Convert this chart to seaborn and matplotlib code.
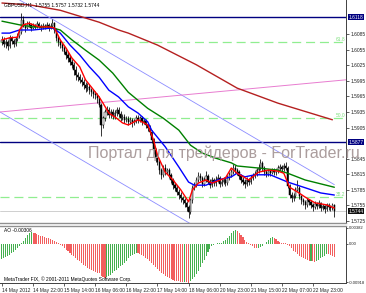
import numpy as np
import pandas as pd
import matplotlib
matplotlib.use("Agg")
import matplotlib.pyplot as plt
import matplotlib.transforms as mtrans
import seaborn as sns

# ---------------- data (GBPUSD H1) ----------------
first_open = 1.6070
closes = [
    1.6074, 1.6066, 1.6070, 1.6062, 1.6078, 1.6072, 1.6066, 1.6076, 1.6081, 1.6089,
    1.6112, 1.6101, 1.6097, 1.6105, 1.6103, 1.6097, 1.6101, 1.6099, 1.6105, 1.6101,
    1.6097, 1.6101, 1.6099, 1.6103, 1.6097, 1.6101, 1.6106, 1.6093, 1.6078, 1.6070,
    1.6064, 1.6058, 1.6051, 1.6045, 1.6039, 1.6032, 1.6026, 1.6016, 1.6006, 1.6003,
    1.5997, 1.5993, 1.5987, 1.5981, 1.5983, 1.5977, 1.5974, 1.5970, 1.5968, 1.5962,
    1.5948, 1.5910, 1.5924, 1.5935, 1.5939, 1.5929, 1.5935, 1.5927, 1.5933, 1.5939,
    1.5931, 1.5924, 1.5926, 1.5920, 1.5922, 1.5916, 1.5920, 1.5914, 1.5918, 1.5924,
    1.5920, 1.5924, 1.5916, 1.5918, 1.5910, 1.5905, 1.5897, 1.5881, 1.5862, 1.5846,
    1.5839, 1.5823, 1.5814, 1.5827, 1.5819, 1.5823, 1.5814, 1.5804, 1.5794, 1.5789,
    1.5781, 1.5775, 1.5769, 1.5765, 1.5760, 1.5752, 1.5742, 1.5765, 1.5789, 1.5794,
    1.5804, 1.5812, 1.5808, 1.5796, 1.5804, 1.5812, 1.5800, 1.5794, 1.5804, 1.5798,
    1.5804, 1.5808, 1.5796, 1.5800, 1.5804, 1.5798, 1.5808, 1.5814, 1.5819, 1.5827,
    1.5823, 1.5819, 1.5812, 1.5804, 1.5800, 1.5796, 1.5804, 1.5800, 1.5808, 1.5812,
    1.5816, 1.5823, 1.5827, 1.5837, 1.5827, 1.5819, 1.5816, 1.5821, 1.5818, 1.5823,
    1.5819, 1.5823, 1.5827, 1.5829, 1.5825, 1.5831, 1.5827, 1.5792, 1.5775, 1.5769,
    1.5773, 1.5785, 1.5789, 1.5773, 1.5765, 1.5762, 1.5756, 1.5765, 1.5762, 1.5756,
    1.5752, 1.5758, 1.5754, 1.5760, 1.5750, 1.5754, 1.5748, 1.5756, 1.5752, 1.5750,
    1.5755, 1.5744,
]
highs = [
    1.6082, 1.6080, 1.6075, 1.6074, 1.6084, 1.6082, 1.6076, 1.6080, 1.6088, 1.6095,
    1.6126, 1.6120, 1.6106, 1.6110, 1.6110, 1.6107, 1.6106, 1.6105, 1.6110, 1.6108,
    1.6104, 1.6106, 1.6105, 1.6108, 1.6106, 1.6107, 1.6114, 1.6108, 1.6096, 1.6082,
    1.6076, 1.6068, 1.6062, 1.6056, 1.6050, 1.6044, 1.6037, 1.6032, 1.6024, 1.6012,
    1.6008, 1.6002, 1.5998, 1.5992, 1.5990, 1.5988, 1.5982, 1.5980, 1.5976, 1.5972,
    1.5966, 1.5952, 1.5928, 1.5940, 1.5946, 1.5944, 1.5940, 1.5940, 1.5938, 1.5944,
    1.5944, 1.5936, 1.5932, 1.5932, 1.5928, 1.5927, 1.5925, 1.5924, 1.5922, 1.5930,
    1.5930, 1.5928, 1.5928, 1.5922, 1.5922, 1.5914, 1.5910, 1.5900, 1.5885, 1.5866,
    1.5852, 1.5844, 1.5828, 1.5832, 1.5834, 1.5828, 1.5828, 1.5818, 1.5808, 1.5798,
    1.5794, 1.5786, 1.5780, 1.5774, 1.5770, 1.5764, 1.5756, 1.5770, 1.5794, 1.5800,
    1.5810, 1.5820, 1.5818, 1.5812, 1.5810, 1.5822, 1.5816, 1.5805, 1.5810, 1.5808,
    1.5812, 1.5815, 1.5812, 1.5806, 1.5810, 1.5810, 1.5814, 1.5820, 1.5825, 1.5834,
    1.5832, 1.5828, 1.5824, 1.5816, 1.5810, 1.5806, 1.5810, 1.5808, 1.5814, 1.5818,
    1.5822, 1.5828, 1.5834, 1.5844, 1.5840, 1.5830, 1.5824, 1.5826, 1.5826, 1.5828,
    1.5828, 1.5826, 1.5832, 1.5834, 1.5833, 1.5836, 1.5838, 1.5830, 1.5796, 1.5780,
    1.5778, 1.5790, 1.5804, 1.5792, 1.5776, 1.5770, 1.5766, 1.5770, 1.5768, 1.5766,
    1.5760, 1.5763, 1.5762, 1.5765, 1.5762, 1.5758, 1.5756, 1.5760, 1.5760, 1.5756,
    1.5760, 1.5757,
]
lows = [
    1.6064, 1.6060, 1.6058, 1.6055, 1.6058, 1.6066, 1.6060, 1.6062, 1.6072, 1.6078,
    1.6085, 1.6098, 1.6090, 1.6094, 1.6098, 1.6092, 1.6094, 1.6094, 1.6097, 1.6096,
    1.6092, 1.6094, 1.6094, 1.6097, 1.6092, 1.6095, 1.6098, 1.6088, 1.6072, 1.6062,
    1.6058, 1.6052, 1.6046, 1.6038, 1.6032, 1.6025, 1.6020, 1.6006, 1.5996, 1.5995,
    1.5990, 1.5986, 1.5980, 1.5974, 1.5976, 1.5970, 1.5966, 1.5962, 1.5960, 1.5952,
    1.5944, 1.5888, 1.5905, 1.5918, 1.5930, 1.5924, 1.5924, 1.5922, 1.5922, 1.5928,
    1.5926, 1.5918, 1.5919, 1.5914, 1.5915, 1.5910, 1.5911, 1.5907, 1.5909, 1.5913,
    1.5914, 1.5915, 1.5910, 1.5911, 1.5905, 1.5898, 1.5890, 1.5876, 1.5855, 1.5838,
    1.5832, 1.5815, 1.5806, 1.5810, 1.5814, 1.5815, 1.5808, 1.5798, 1.5786, 1.5782,
    1.5775, 1.5768, 1.5762, 1.5758, 1.5752, 1.5745, 1.5730, 1.5738, 1.5760, 1.5784,
    1.5790, 1.5800, 1.5802, 1.5790, 1.5792, 1.5800, 1.5796, 1.5788, 1.5790, 1.5792,
    1.5792, 1.5800, 1.5790, 1.5792, 1.5796, 1.5792, 1.5795, 1.5804, 1.5810, 1.5815,
    1.5818, 1.5814, 1.5806, 1.5798, 1.5794, 1.5788, 1.5792, 1.5794, 1.5796, 1.5804,
    1.5808, 1.5812, 1.5818, 1.5824, 1.5822, 1.5814, 1.5810, 1.5812, 1.5812, 1.5815,
    1.5814, 1.5814, 1.5818, 1.5822, 1.5820, 1.5822, 1.5824, 1.5788, 1.5770, 1.5762,
    1.5764, 1.5770, 1.5782, 1.5768, 1.5758, 1.5755, 1.5748, 1.5752, 1.5756, 1.5750,
    1.5745, 1.5748, 1.5748, 1.5750, 1.5744, 1.5746, 1.5740, 1.5745, 1.5746, 1.5744,
    1.5746, 1.5732,
]

# moving averages (bar index, price)
ma_fast_idx = [0, 4, 8, 9, 11, 14, 19, 24, 27, 30, 33, 36, 40, 43, 46, 50, 52, 55, 59, 62,
               65, 70, 75, 78, 80, 84, 88, 92, 96, 98, 101, 105, 108, 111, 115, 118, 121,
               127, 132, 137, 142, 145, 148, 152, 156, 161, 167, 171]
ma_fast = [1.6074, 1.6078, 1.6079, 1.6093, 1.6103, 1.6106, 1.6099, 1.6099, 1.6097, 1.6074,
           1.6058, 1.6039, 1.6022, 1.5997, 1.5983, 1.5964, 1.5952, 1.5933, 1.5923, 1.5914,
           1.5910, 1.5920, 1.5910, 1.5881, 1.5852, 1.5819, 1.5804, 1.5785, 1.5762, 1.5785,
           1.5798, 1.5804, 1.5798, 1.5802, 1.5808, 1.5827, 1.5817, 1.5804, 1.5819, 1.5823,
           1.5821, 1.5817, 1.5790, 1.5781, 1.5771, 1.5760, 1.5756, 1.5750]
ma_mid_idx = [0, 4, 9, 16, 26, 30, 35, 40, 45, 50, 55, 60, 65, 70, 75, 77, 84, 91, 96, 99,
              105, 111, 118, 121, 125, 130, 138, 147, 156, 164, 171]
ma_mid = [1.6087, 1.6087, 1.6093, 1.6093, 1.6097, 1.6087, 1.6064, 1.6045, 1.6022, 1.6002,
          1.5977, 1.5964, 1.5945, 1.5933, 1.5916, 1.5900, 1.5868, 1.5829, 1.5800, 1.5794,
          1.5794, 1.5804, 1.5810, 1.5817, 1.5810, 1.5814, 1.5814, 1.5800, 1.5789, 1.5779,
          1.5775]
ma_slow_idx = [0, 9, 16, 24, 30, 36, 43, 50, 57, 65, 75, 83, 91, 97, 103, 110, 118, 121,
               132, 142, 147, 156, 171]
ma_slow = [1.6110, 1.6103, 1.6099, 1.6099, 1.6093, 1.6074, 1.6054, 1.6035, 1.6010, 1.5973,
           1.5942, 1.5923, 1.5900, 1.5871, 1.5856, 1.5846, 1.5837, 1.5831, 1.5827, 1.5823,
           1.5817, 1.5804, 1.5790]
ma_long_idx = [0, 15, 30, 50, 60, 65, 80, 100, 121, 142, 170]
ma_long = [1.6145, 1.6141, 1.6131, 1.6108, 1.6093, 1.6087, 1.6064, 1.6026, 1.5981, 1.5952, 1.5920]

# Awesome Oscillator (x 1e-4)
ao_e4 = [
    -37, -35, -32, -30, -26, -23, -19, -15, -10, -5,
    1, 8, 15, 21, 26, 28, 27, 25, 24, 22,
    20, 19, 17, 15, 13, 11, 10, 8, 5, 2,
    -2, -6, -10, -14, -18, -22, -26, -30, -34, -38,
    -42, -46, -50, -54, -57, -60, -63, -65, -67, -69,
    -71, -76, -79, -81, -80, -78, -74, -70, -66, -62,
    -58, -54, -50, -45, -40, -35, -30, -26, -24, -22,
    -23, -25, -27, -30, -33, -37, -41, -45, -50, -55,
    -60, -65, -69, -73, -76, -79, -82, -84, -86, -88,
    -89, -90, -91, -92, -91, -92, -93, -88, -84, -79,
    -72, -64, -56, -47, -38, -29, -20, -12, -6, -3,
    -1, 1, 2, 3, 6, 10, 15, 20, 25, 30,
    33, 31, 27, 22, 16, 10, 5, 1, -3, -6,
    -9, -11, -10, -8, -5, -1, 4, 9, 13, 16,
    14, 11, 8, 5, 3, 2, 1, -2, -6, -11,
    -16, -20, -24, -28, -31, -34, -37, -39, -41, -40,
    -42, -43, -41, -38, -35, -32, -28, -24, -25, -27,
    -29, -31,
]

# objects: trend channel, pink trendline, fibo levels, horizontal lines
channel_upper = ([9.0, 171.0], [1.6151, 1.5795])
channel_lower = ([-1.0, 171.0], [1.5935, 1.5557])
pink_line = ([-1.0, 177.0], [1.5935, 1.5997])
fibo_levels = [1.6070, 1.59234, 1.57712]
fibo_labels = ["61.8", "50.0", "38.2"]
hlines = [1.6118, 1.5877]
bid = 1.5744

price_ticks = [1.6085, 1.6055, 1.6025, 1.5995, 1.5965, 1.5935, 1.5905,
               1.5845, 1.5815, 1.5785, 1.5755, 1.5725]
time_tick_bars = [0, 16, 32, 48, 64, 80, 96, 112, 128, 144, 160]
time_labels = ["14 May 2012", "14 May 22:00", "15 May 14:00", "16 May 06:00",
               "16 May 22:00", "17 May 14:00", "18 May 06:00", "20 May 23:00",
               "21 May 15:00", "22 May 07:00", "22 May 23:00"]
ao_ticks = [0.00382, 0.0, -0.00918]
ao_tick_labels = ["0.00382", "0.00", "-0.00918"]

# ---------------- drawing ----------------
sns.set_theme(style="white")
plt.rcParams['font.family'] = ['Liberation Sans', 'DejaVu Sans']
plt.rcParams['lines.scale_dashes'] = False

FS = 3.5
W, H = 366, 293
fig = plt.figure(figsize=(W / 100, H / 100), dpi=100)
fig.patch.set_facecolor('white')
ax = fig.add_axes([0, 1 - 223 / H, 346 / W, 223 / H])
ax2 = fig.add_axes([0, 1 - 283 / H, 346 / W, (283 - 225.5) / H])

df = pd.DataFrame({"bar": np.arange(len(closes)), "close": closes,
                   "high": highs, "low": lows})
df["open"] = df["close"].shift(1).fillna(first_open)
df["ao"] = np.array(ao_e4) * 1e-4
bull = df["close"] >= df["open"]

XL = (-1.0, 177.0)
YL = (1.57211, 1.61508)

# watermark
fig.text(88 / W, 1 - 153 / H, "Портал для трейдеров - ForTrader.ru",
         fontsize=11.5, color='#ab9d9d', va='center', ha='left', zorder=0,
         family=['Liberation Sans', 'DejaVu Sans'])

# fibo lines
for lv, lb in zip(fibo_levels, fibo_labels):
    ax.axhline(lv, color='#90ee90', lw=0.9, ls=(0, (6.5, 3.5)), zorder=1)
    ax.text(176.5, lv + 0.00005, lb, color='#80e080', fontsize=FS,
            ha='right', va='bottom', zorder=2)

# horizontal lines
for lv in hlines:
    ax.axhline(lv, color='#000080', lw=1.0, zorder=2)
ax.axhline(bid, color='#c8c8c8', lw=0.6, zorder=1)

# trend lines
ax.plot(*channel_upper, color='#8c8cff', lw=0.6, zorder=2)
ax.plot(*channel_lower, color='#8c8cff', lw=0.6, zorder=2)
ax.plot(*pink_line, color='#e87cd0', lw=0.7, zorder=2)

# candles
ax.vlines(df["bar"], df["low"], df["high"], color='black', lw=0.55, zorder=3)
body_lo = np.minimum(df["open"], df["close"])
body_h = np.maximum(np.abs(df["close"] - df["open"]), 0.00008)
ax.bar(df["bar"], body_h, bottom=body_lo, width=0.62,
       color=np.where(bull, 'white', 'black'), edgecolor='black', linewidth=0.35, zorder=4)

# moving averages
sns.lineplot(x=ma_long_idx, y=ma_long, ax=ax, color='#b52020', lw=1.0, zorder=5,
             estimator=None, legend=False)
sns.lineplot(x=ma_slow_idx, y=ma_slow, ax=ax, color='#008000', lw=1.0, zorder=5,
             estimator=None, legend=False)
sns.lineplot(x=ma_mid_idx, y=ma_mid, ax=ax, color='#0000ff', lw=1.0, zorder=6,
             estimator=None, legend=False)
sns.lineplot(x=ma_fast_idx, y=ma_fast, ax=ax, color='#ff0000', lw=1.0, zorder=7,
             estimator=None, legend=False)

ax.set_xlim(*XL)
ax.set_ylim(*YL)
ax.set_xlabel("")
ax.set_ylabel("")
ax.set_xticks([])
ax.yaxis.tick_right()
ax.set_yticks(price_ticks)
ax.set_yticklabels([f"{p:.4f}" for p in price_ticks])
ax.tick_params(axis='y', right=True, direction='out', length=2, width=0.5,
               pad=1.0, labelsize=FS, colors='#202020')
for s in ['left', 'top']:
    ax.spines[s].set_visible(False)
ax.spines['right'].set_color('#404040')
ax.spines['right'].set_linewidth(0.7)
ax.spines['bottom'].set_color('#909090')
ax.spines['bottom'].set_linewidth(1.0)

# highlighted price labels
trans = mtrans.blended_transform_factory(ax.transAxes, ax.transData)
for lv, fc in [(hlines[0], '#000080'), (hlines[1], '#000080'), (bid, '#101010')]:
    ax.text(1.0075, lv, f"{lv:.4f}", transform=trans, color='white', fontsize=FS,
            ha='left', va='center', clip_on=False,
            bbox=dict(boxstyle='square,pad=0.15', fc=fc, ec='none'))

# title
fig.text(4 / W, 1 - 5 / H, "GBPUSD,H1  1.5755 1.5757 1.5732 1.5744", fontsize=FS,
         color='black', ha='left', va='center')

# ---- AO panel ----
ao_vals = df["ao"].to_numpy()
ao_up = np.concatenate([[True], ao_vals[1:] > ao_vals[:-1]])
ax2.bar(df["bar"], df["ao"], width=0.55, color=np.where(ao_up, '#45b04f', '#f25e5e'),
        linewidth=0)
ax2.set_xlim(*XL)
ax2.set_ylim(-0.0094, 0.0044)
ax2.yaxis.tick_right()
ax2.set_yticks(ao_ticks)
ax2.set_yticklabels(ao_tick_labels)
ax2.tick_params(axis='y', right=True, direction='out', length=1.5, width=0.5,
                pad=0.6, labelsize=3.0, colors='#202020')
ax2.set_xticks(time_tick_bars)
ax2.set_xticklabels(time_labels, ha='left')
ax2.tick_params(axis='x', bottom=True, direction='out', length=2, width=0.5,
                pad=1.5, labelsize=FS, colors='#202020')
ax2.spines['left'].set_visible(False)
ax2.spines['top'].set_color('#909090')
ax2.spines['top'].set_linewidth(1.0)
ax2.spines['right'].set_color('#404040')
ax2.spines['right'].set_linewidth(0.7)
ax2.spines['bottom'].set_color('#404040')
ax2.spines['bottom'].set_linewidth(0.7)
ax2.set_xlabel("")
ax2.set_ylabel("")

fig.text(4 / W, 1 - 231 / H, "AO -0.00306", fontsize=FS, color='black',
         ha='left', va='center')
fig.text(4 / W, 1 - 279 / H, "MetaTrader FIX, © 2001-2011 MetaQuotes Software Corp.",
         fontsize=FS, color='black', ha='left', va='center')

fig.savefig("out.png", dpi=100, facecolor='white')
